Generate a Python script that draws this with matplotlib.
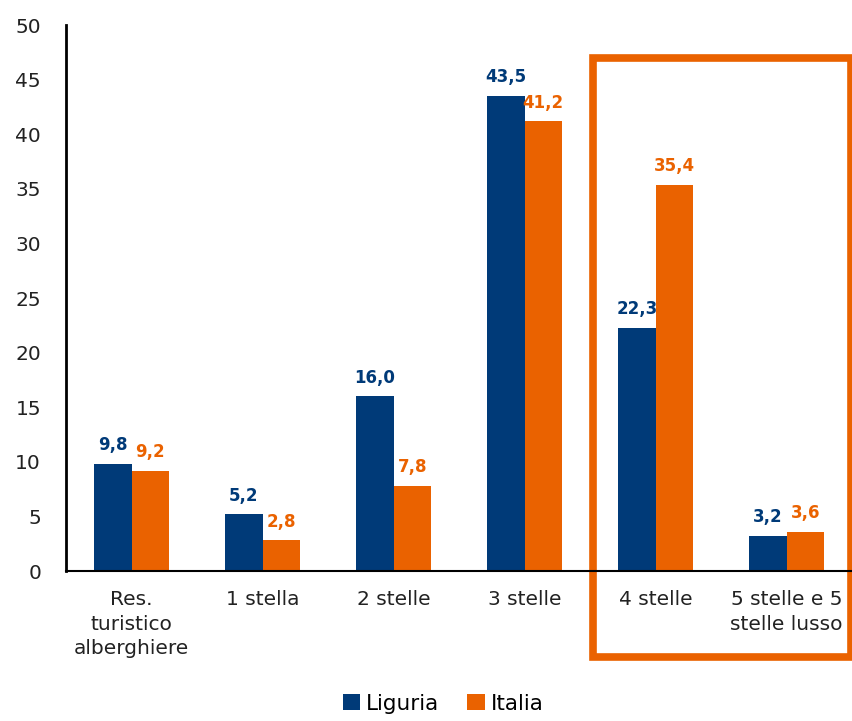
import numpy as np
import matplotlib.pyplot as plt
from matplotlib.patches import Rectangle

categories = ['Res.\nturistico\nalberghiere', '1 stella', '2 stelle', '3 stelle',
              '4 stelle', '5 stelle e 5\nstelle lusso']
liguria = [9.8, 5.2, 16.0, 43.5, 22.3, 3.2]
italia = [9.2, 2.8, 7.8, 41.2, 35.4, 3.6]

blu = '#003A78'
arancio = '#EA6200'

plt.rcParams['font.family'] = ['DejaVu Sans']

fig = plt.figure(figsize=(8.52, 7.21), dpi=100)
ax = fig.add_axes([0.0775, 0.208, 0.9225, 0.757])

x = np.arange(len(categories))
w = 0.285
b1 = ax.bar(x - w/2, liguria, w, color=blu, label='Liguria')
b2 = ax.bar(x + w/2, italia, w, color=arancio, label='Italia')

for bars, vals, col in [(b1, liguria, blu), (b2, italia, arancio)]:
    for r, v in zip(bars, vals):
        ax.annotate(f'{v:.1f}'.replace('.', ','), (r.get_x() + r.get_width()/2, v),
                    xytext=(0, 7), textcoords='offset points', ha='center', va='bottom',
                    fontsize=12, fontweight='bold', color=col)

ax.set_xlim(-0.5, len(categories) - 0.5)
ax.set_ylim(0, 50)
ax.set_yticks(np.arange(0, 51, 5))
ax.set_xticks(x)
ax.set_xticklabels(categories, fontsize=14, color='#222222', linespacing=1.35)
ax.tick_params(axis='both', length=0, labelsize=14.5)
ax.tick_params(axis='y', pad=18, labelcolor='#222222')
ax.tick_params(axis='x', pad=14)
for s in ['top', 'right']:
    ax.spines[s].set_visible(False)
ax.spines['left'].set_linewidth(2)
ax.spines['bottom'].set_linewidth(1.5)

# riquadro evidenziato attorno a 4 e 5 stelle
ax.add_patch(Rectangle((3.52, -7.9), 1.97, 54.9, fill=False, edgecolor=arancio,
                       linewidth=5.5, clip_on=False))

ax.legend(loc='lower center', bbox_to_anchor=(0.48, -0.285), ncol=2, frameon=False,
          fontsize=15.5, handlelength=0.8, handleheight=0.8, handletextpad=0.3,
          columnspacing=1.3, borderaxespad=0.2)

plt.savefig('out.png', dpi=100)
